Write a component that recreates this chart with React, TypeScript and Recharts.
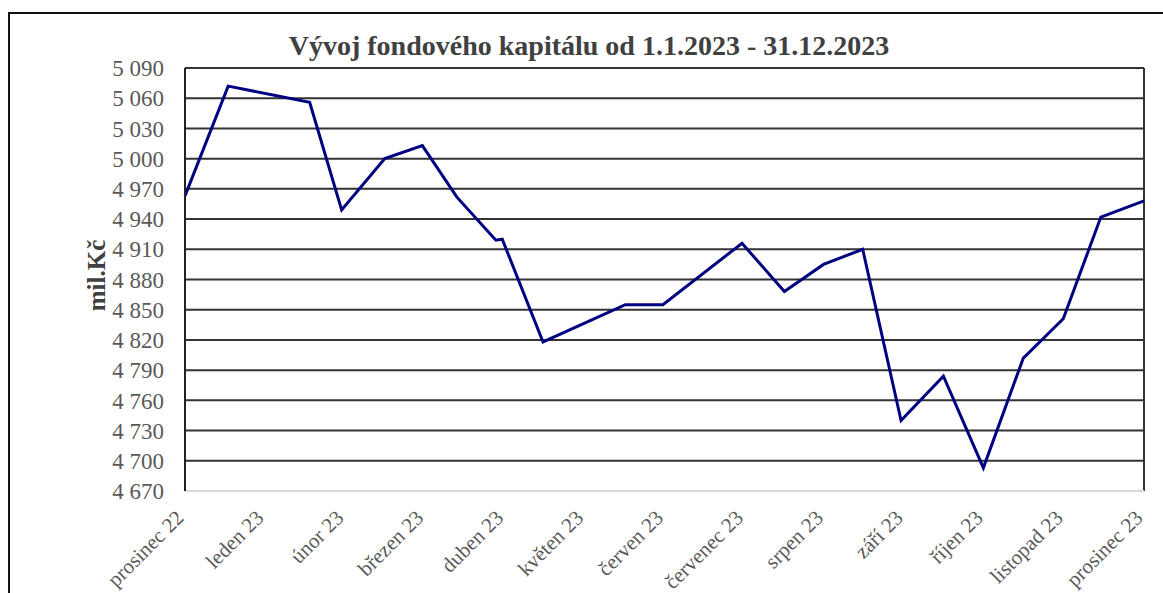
import { LineChart, Line, XAxis, YAxis, CartesianGrid, ReferenceLine } from "recharts";

const monthLabels = [
  "prosinec 22", "leden 23", "únor 23", "březen 23", "duben 23", "květen 23", "červen 23",
  "červenec 23", "srpen 23", "září 23", "říjen 23", "listopad 23", "prosinec 23",
];
const monthTicks = [0, 1, 2, 3, 4, 5, 6, 7, 8, 9, 10, 11, 12];

// position in months from end of Dec 2022, and fund capital (mil. Kč)
const positions = [0, 0.54, 1.56, 1.96, 2.5, 2.97, 3.4, 3.89, 3.97, 4.48, 5.51, 5.98, 6.97, 7.5, 7.99, 8.48, 8.96, 9.49, 9.99, 10.49, 10.99, 11.46, 12];
const capital = [4963, 5072, 5056, 4949, 5000, 5013, 4962, 4919, 4920, 4818, 4855, 4855, 4916, 4868, 4895, 4910, 4740, 4784, 4693, 4802, 4841, 4942, 4958];

const yTicks = [4670, 4700, 4730, 4760, 4790, 4820, 4850, 4880, 4910, 4940, 4970, 5000, 5030, 5060, 5090];

const data = positions.map((m, i) => ({ m, v: capital[i] }));

const font = '"Liberation Serif", "Times New Roman", serif';
const fmt = (v: number) => {
  const s = String(v);
  return s.length > 3 ? s.slice(0, s.length - 3) + " " + s.slice(-3) : s;
};

const MonthTick = (props: any) => {
  const { x, y, payload } = props;
  return (
    <g transform={`translate(${x},${y + 28})`}>
      <text textAnchor="end" transform="rotate(-45)" fontSize={21} fill="#595959" fontFamily={font}>
        {monthLabels[payload.value]}
      </text>
    </g>
  );
};

export default function App() {
  return (
    <div
      style={{
        position: "absolute",
        left: 8,
        top: 12,
        width: 1155,
        height: 581,
        boxSizing: "border-box",
        borderTop: "2px solid #111",
        borderLeft: "2px solid #111",
        background: "#fff",
        overflow: "hidden",
      }}
    >
      <div
        style={{
          position: "absolute",
          left: 0,
          top: 18,
          width: 1158,
          textAlign: "center",
          fontFamily: font,
          fontWeight: "bold",
          fontSize: 28,
          lineHeight: "28px",
          color: "#404040",
        }}
      >
        Vývoj fondového kapitálu od 1.1.2023 - 31.12.2023
      </div>
      <LineChart width={1153} height={579} data={data} margin={{ top: 54, right: 19, bottom: 22, left: 0 }}>
        <CartesianGrid vertical={false} stroke="#333" strokeWidth={2} horizontalValues={yTicks.slice(1)} />
        <XAxis
          dataKey="m"
          type="number"
          domain={[0, 12]}
          ticks={monthTicks}
          interval={0}
          height={80}
          tickSize={0}
          tickMargin={0}
          tick={<MonthTick />}
          axisLine={{ stroke: "#d9d9d9", strokeWidth: 2 }}
        />
        <YAxis
          type="number"
          domain={[4670, 5090]}
          ticks={yTicks}
          interval={0}
          width={175}
          tickSize={0}
          tickMargin={21}
          tickFormatter={fmt}
          tick={{ fontSize: 23, fill: "#595959", fontFamily: font }}
          axisLine={{ stroke: "#222", strokeWidth: 2 }}
          label={{
            content: (p: any) => {
              const vb = p.viewBox;
              const cx = vb.x + 86;
              const cy = vb.y + vb.height / 2 - 4;
              return (
                <text
                  x={cx}
                  y={cy}
                  transform={`rotate(-90, ${cx}, ${cy})`}
                  textAnchor="middle"
                  dominantBaseline="central"
                  fontFamily={font}
                  fontWeight="bold"
                  fontSize={25}
                  fill="#404040"
                >
                  mil.Kč
                </text>
              );
            },
          }}
        />
        <ReferenceLine x={12} stroke="#333" strokeWidth={2} />
        <Line type="linear" dataKey="v" stroke="#000080" strokeWidth={3} dot={false} isAnimationActive={false} />
      </LineChart>
    </div>
  );
}
